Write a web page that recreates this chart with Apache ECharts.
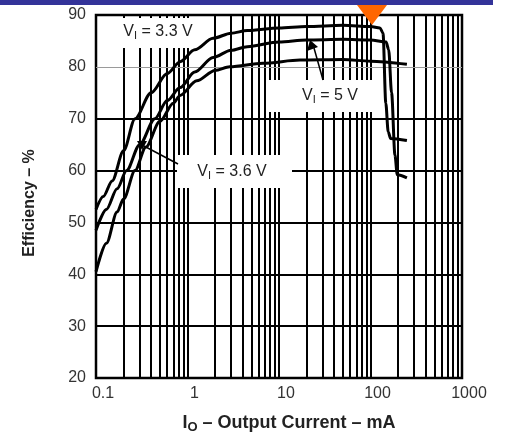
<!DOCTYPE html>
<html>
<head>
<meta charset="utf-8">
<script src="https://cdn.jsdelivr.net/npm/echarts@6/dist/echarts.min.js"></script>
<style>
  html, body { margin: 0; padding: 0; background: #fff; }
  #chart { width: 506px; height: 438px; }
</style>
</head>
<body>
<div id="chart"></div>
<script>
// output current (mA) / efficiency (%)
const vi33Current = [0.1, 0.12, 0.15, 0.2, 0.267, 0.4, 0.6, 0.83, 1.2, 1.9, 3, 4.5, 10, 20, 50, 100, 127, 137, 147, 156, 166, 250];
const vi33Eff = [52.5, 55, 58, 63.8, 70, 75, 78.7, 81, 83.3, 85.5, 86.5, 87, 87.5, 87.8, 88, 87.8, 87.5, 86.5, 73, 67.5, 66.2, 65.8];

const vi36Current = [0.1, 0.13, 0.17, 0.216, 0.3, 0.44, 0.6, 0.83, 1.2, 1.9, 3, 4.5, 10, 20, 50, 100, 148, 158, 170, 185, 196, 250];
const vi36Eff = [48.5, 52.5, 56.5, 60, 65, 70, 73.5, 76, 79, 81.8, 83.2, 83.9, 84.8, 85.2, 85.3, 85.2, 84.8, 83.3, 75, 63, 59.2, 58.6];

const vi50Current = [0.1, 0.13, 0.17, 0.2, 0.267, 0.35, 0.5, 0.7, 0.83, 1.26, 2, 2.9, 6.7, 17, 50, 100, 250];
const vi50Eff = [40.5, 46, 52, 54.5, 60, 64.5, 69.5, 73, 74.5, 77.3, 79.3, 80, 80.7, 81.3, 81.4, 81.1, 80.5];

// grid lines
const xGridValues = [0.2, 0.3, 0.4, 0.5, 0.6, 0.7, 0.8, 0.9, 1, 2, 3, 4, 5, 6, 7, 8, 9, 10,
  20, 30, 40, 50, 60, 70, 80, 90, 100, 200, 300, 400, 500, 600, 700, 800, 900];
const yGridValues = [30, 40, 50, 60, 70, 80];
const yTicks = { min: 20, max: 90, interval: 10 };
const xTicks = { min: 0.1, max: 1000 };

const pairs = (xs, ys) => xs.map((x, i) => [x, ys[i]]);

const chart = echarts.init(document.getElementById("chart"));

const curve = (name, xs, ys) => ({
  name,
  type: "line",
  data: pairs(xs, ys),
  showSymbol: false,
  smooth: 0.3,
  smoothMonotone: "x",
  z: 10,
  lineStyle: { color: "#000", width: 3 },
  silent: true,
});

const gridLines = [
  ...xGridValues.map((v) => ({ xAxis: v })),
  ...yGridValues.map((v) =>
    v === 80
      ? { yAxis: v, lineStyle: { color: "#9a9a9a", width: 1, type: "solid" } }
      : { yAxis: v }
  ),
];

const sub = { fontSize: 11, fontFamily: "Liberation Sans", fill: "#222", padding: [7, 0, 0, 0] };
const norm = { fontSize: 16, fontFamily: "Liberation Sans", fill: "#222" };

chart.setOption({
  animation: false,
  backgroundColor: "#fff",
  grid: {
    left: 96,
    top: 15,
    width: 366,
    height: 363,
    show: true,
    borderColor: "#000",
    borderWidth: 2.5,
  },
  xAxis: {
    type: "log",
    logBase: 10,
    min: xTicks.min,
    max: xTicks.max,
    axisLine: { show: false },
    axisTick: { show: false },
    splitLine: { show: false },
    axisLabel: {
      fontFamily: "Liberation Sans",
      fontSize: 16,
      color: "#333",
      margin: 8,
      padding: [0, 0, 0, 14],
      formatter: (v) => String(v),
    },
  },
  yAxis: {
    type: "value",
    min: yTicks.min,
    max: yTicks.max,
    interval: yTicks.interval,
    axisLine: { show: false },
    axisTick: { show: false },
    splitLine: { show: false },
    axisLabel: {
      fontFamily: "Liberation Sans",
      fontSize: 16,
      color: "#333",
      margin: 10,
    },
  },
  series: [
    {
      name: "grid",
      type: "line",
      data: [],
      silent: true,
      markLine: {
        silent: true,
        z: 1,
        symbol: "none",
        label: { show: false },
        emphasis: { disabled: true },
        lineStyle: { color: "#000", width: 2, type: "solid" },
        data: gridLines,
      },
    },
    curve("VI = 3.3 V", vi33Current, vi33Eff),
    curve("VI = 3.6 V", vi36Current, vi36Eff),
    curve("VI = 5 V", vi50Current, vi50Eff),
  ],
  graphic: [
    // header bar and marker
    { type: "rect", shape: { x: 0, y: 0, width: 493, height: 5 }, style: { fill: "#333399" }, z: 20 },
    { type: "polygon", shape: { points: [[357, 5], [387, 5], [372, 25]] }, style: { fill: "#ff6600" }, z: 20 },

    // white label boxes that hide the grid
    { type: "rect", shape: { x: 98, y: 18, width: 107, height: 30 }, style: { fill: "#fff" }, z: 5 },
    { type: "rect", shape: { x: 268, y: 80, width: 110, height: 32 }, style: { fill: "#fff" }, z: 5 },
    { type: "rect", shape: { x: 177, y: 155, width: 115, height: 33 }, style: { fill: "#fff" }, z: 5 },

    // labels
    {
      type: "text", x: 158, y: 32, z: 12,
      style: { text: "{n|V}{s|I}{n| = 3.3 V}", align: "center", verticalAlign: "middle", rich: { n: norm, s: sub } },
    },
    {
      type: "text", x: 330, y: 96, z: 12,
      style: { text: "{n|V}{s|I}{n| = 5 V}", align: "center", verticalAlign: "middle", rich: { n: norm, s: sub } },
    },
    {
      type: "text", x: 232, y: 172, z: 12,
      style: { text: "{n|V}{s|I}{n| = 3.6 V}", align: "center", verticalAlign: "middle", rich: { n: norm, s: sub } },
    },

    // arrows
    { type: "line", shape: { x1: 323, y1: 80, x2: 314, y2: 48 }, style: { stroke: "#000", lineWidth: 1.5 }, z: 12 },
    { type: "polygon", shape: { points: [[310, 40], [307, 51], [318, 47]] }, style: { fill: "#000" }, z: 12 },
    { type: "line", shape: { x1: 178, y1: 164, x2: 144, y2: 146 }, style: { stroke: "#000", lineWidth: 1.5 }, z: 12 },
    { type: "polygon", shape: { points: [[137, 141], [147, 141], [142, 150]] }, style: { fill: "#000" }, z: 12 },

    // axis names
    {
      type: "text", x: 30, y: 203, rotation: Math.PI / 2, z: 12,
      style: {
        text: "Efficiency – %",
        font: "bold 16px 'Liberation Sans'",
        fill: "#222",
        align: "center",
        verticalAlign: "middle",
      },
    },
    {
      type: "text", x: 289, y: 423, z: 12,
      style: {
        text: "{b|I}{s|O}{b| – Output Current – mA}",
        align: "center",
        verticalAlign: "middle",
        rich: {
          b: { fontSize: 18, fontWeight: "bold", fontFamily: "Liberation Sans", fill: "#222" },
          s: { fontSize: 13, fontWeight: "bold", fontFamily: "Liberation Sans", fill: "#222", padding: [8, 0, 0, 0] },
        },
      },
    },
  ],
});
</script>
</body>
</html>
